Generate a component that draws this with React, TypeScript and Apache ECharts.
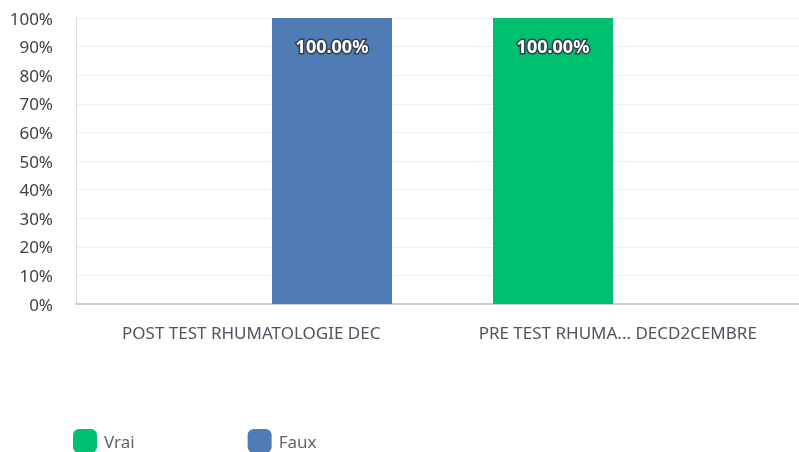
import React, { useEffect, useRef } from "react";
import * as echarts from "echarts";

const categories = ["POST TEST RHUMATOLOGIE DEC", "PRE TEST RHUMA... DECD2CEMBRE"];
const seriesNames = ["Vrai", "Faux"];
const vraiValues = [0, 100];
const fauxValues = [100, 0];
const yTicks = { min: 0, max: 100, interval: 10 };
const colors = ["#00BF6F", "#507CB6"];

export default function App() {
  const ref = useRef<HTMLDivElement>(null);
  useEffect(() => {
    if (!ref.current) return;
    const chart = echarts.init(ref.current, null, { renderer: "svg" });
    const label = {
      show: true,
      position: "insideTop",
      distance: 19,
      color: "#ffffff",
      textBorderColor: "#333e48",
      textBorderWidth: 3,
      fontSize: 18,
      fontWeight: "bold",
      fontFamily: "Noto Sans",
      formatter: (p: any) => (p.value > 0 ? p.value.toFixed(2) + "%" : ""),
    };
    chart.setOption({
      animation: false,
      textStyle: { fontFamily: "Noto Sans" },
      grid: {
        left: 76,
        width: 733,
        top: 18,
        bottom: 148,
        containLabel: false,
        outerBoundsMode: "none",
      },
      legend: {
        left: 73,
        top: 429,
        padding: 0,
        itemWidth: 24,
        itemHeight: 24,
        itemGap: 113,
        icon: "roundRect",
        textStyle: { fontSize: 17, color: "#5f6670", fontFamily: "Noto Sans", padding: [0, 0, 0, 2] },
        data: seriesNames,
      },
      xAxis: {
        type: "category",
        data: categories,
        axisLine: { show: true, lineStyle: { color: "#cccccc", width: 2 } },
        axisTick: { show: false },
        axisLabel: {
          fontSize: 17,
          color: "#4d5560",
          margin: 20,
          padding: [0, 16, 0, 0],
          interval: 0,
        },
      },
      yAxis: {
        type: "value",
        min: yTicks.min,
        max: yTicks.max,
        interval: yTicks.interval,
        axisLine: { show: true, lineStyle: { color: "#dddddd", width: 1 } },
        axisTick: { show: false },
        splitLine: { lineStyle: { color: "#eeeeee", width: 1 } },
        axisLabel: {
          formatter: "{value}%",
          fontSize: 17,
          color: "#3c4248",
          margin: 23,
          padding: [4, 0, 0, 0],
        },
      },
      series: [
        {
          name: seriesNames[0],
          type: "bar",
          data: vraiValues,
          barWidth: 120,
          barGap: "21.25%",
          itemStyle: { color: colors[0] },
          label,
        },
        {
          name: seriesNames[1],
          type: "bar",
          data: fauxValues,
          barWidth: 120,
          barGap: "21.25%",
          itemStyle: { color: colors[1] },
          label,
        },
      ],
    });
    return () => chart.dispose();
  }, []);
  return (
    <div
      ref={ref}
      style={{ position: "fixed", left: 0, top: 0, width: 799, height: 452 }}
    />
  );
}
